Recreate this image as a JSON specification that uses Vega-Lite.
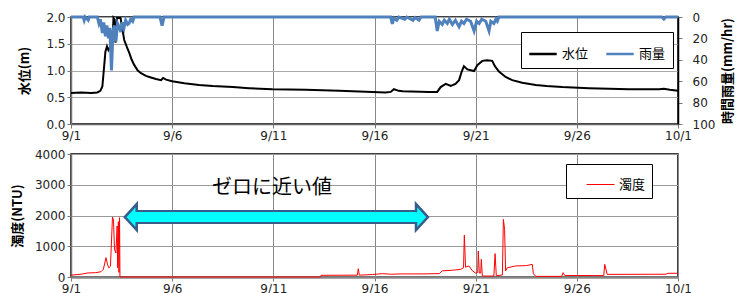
{
  "$schema": "https://vega.github.io/schema/vega-lite/v6.json",
  "background": "white",
  "padding": {"left": 10, "top": 10, "right": 4, "bottom": 0},
  "spacing": 5,
  "config": {
    "font": "Noto Sans CJK JP",
    "view": {"stroke": "black", "strokeWidth": 1.5},
    "axis": {"labelFont": "DejaVu Sans", "labelFontSize": 12, "labelColor": "#222", "titleFont": "Noto Sans CJK JP", "titleFontSize": 13, "titleFontWeight": "bold", "titleColor": "#000", "tickSize": 4, "domainWidth": 1.5, "labelOverlap": false, "labelFlush": false}
  },
  "resolve": {"scale": {"color": "independent"}, "legend": {"color": "independent"}},
  "datasets": {
    "level": [
      {"t": "2023-09-01T00:00", "v": 0.58}, {"t": "2023-09-01T12:00", "v": 0.59}, {"t": "2023-09-02T00:00", "v": 0.58},
      {"t": "2023-09-02T07:12", "v": 0.59}, {"t": "2023-09-02T10:48", "v": 0.62}, {"t": "2023-09-02T13:12", "v": 0.70},
      {"t": "2023-09-02T14:53", "v": 1.00}, {"t": "2023-09-02T16:48", "v": 1.35}, {"t": "2023-09-02T18:43", "v": 1.45},
      {"t": "2023-09-02T20:24", "v": 1.38}, {"t": "2023-09-02T22:48", "v": 1.45}, {"t": "2023-09-03T01:12", "v": 1.55},
      {"t": "2023-09-03T02:24", "v": 1.98}, {"t": "2023-09-03T03:36", "v": 1.95}, {"t": "2023-09-03T04:48", "v": 1.52},
      {"t": "2023-09-03T06:29", "v": 1.98}, {"t": "2023-09-03T10:48", "v": 1.98}, {"t": "2023-09-03T13:12", "v": 1.75},
      {"t": "2023-09-03T15:07", "v": 1.57}, {"t": "2023-09-03T18:00", "v": 1.45}, {"t": "2023-09-03T21:07", "v": 1.33},
      {"t": "2023-09-04T00:00", "v": 1.20}, {"t": "2023-09-04T03:07", "v": 1.10}, {"t": "2023-09-04T07:12", "v": 1.00},
      {"t": "2023-09-04T11:02", "v": 0.95}, {"t": "2023-09-04T16:48", "v": 0.90}, {"t": "2023-09-04T22:48", "v": 0.87},
      {"t": "2023-09-05T04:48", "v": 0.84}, {"t": "2023-09-05T10:48", "v": 0.82}, {"t": "2023-09-05T13:12", "v": 0.86},
      {"t": "2023-09-05T16:48", "v": 0.83}, {"t": "2023-09-06T00:00", "v": 0.80}, {"t": "2023-09-06T14:24", "v": 0.76},
      {"t": "2023-09-07T07:55", "v": 0.73}, {"t": "2023-09-08T00:00", "v": 0.71}, {"t": "2023-09-09T00:00", "v": 0.69},
      {"t": "2023-09-09T19:12", "v": 0.67}, {"t": "2023-09-10T22:48", "v": 0.65}, {"t": "2023-09-12T14:24", "v": 0.64},
      {"t": "2023-09-14T06:00", "v": 0.62}, {"t": "2023-09-15T21:36", "v": 0.60}, {"t": "2023-09-16T13:12", "v": 0.59},
      {"t": "2023-09-16T19:12", "v": 0.60}, {"t": "2023-09-16T23:02", "v": 0.65}, {"t": "2023-09-17T04:48", "v": 0.62},
      {"t": "2023-09-17T09:36", "v": 0.61}, {"t": "2023-09-18T16:48", "v": 0.60}, {"t": "2023-09-19T02:24", "v": 0.60},
      {"t": "2023-09-19T06:29", "v": 0.69}, {"t": "2023-09-19T12:29", "v": 0.75}, {"t": "2023-09-19T18:29", "v": 0.71},
      {"t": "2023-09-20T00:00", "v": 0.75}, {"t": "2023-09-20T04:19", "v": 0.82}, {"t": "2023-09-20T07:26", "v": 0.98},
      {"t": "2023-09-20T10:05", "v": 1.08}, {"t": "2023-09-20T14:10", "v": 1.02}, {"t": "2023-09-20T22:05", "v": 0.99},
      {"t": "2023-09-21T01:55", "v": 1.10}, {"t": "2023-09-21T07:55", "v": 1.18}, {"t": "2023-09-21T13:26", "v": 1.19},
      {"t": "2023-09-21T19:41", "v": 1.18}, {"t": "2023-09-21T22:48", "v": 1.08}, {"t": "2023-09-22T03:36", "v": 0.98},
      {"t": "2023-09-22T11:31", "v": 0.88}, {"t": "2023-09-22T19:26", "v": 0.82}, {"t": "2023-09-23T07:12", "v": 0.77},
      {"t": "2023-09-23T23:17", "v": 0.73}, {"t": "2023-09-24T12:00", "v": 0.71}, {"t": "2023-09-25T06:43", "v": 0.69},
      {"t": "2023-09-26T14:24", "v": 0.67}, {"t": "2023-09-28T13:55", "v": 0.65}, {"t": "2023-09-30T01:26", "v": 0.65},
      {"t": "2023-09-30T07:12", "v": 0.66}, {"t": "2023-09-30T14:24", "v": 0.64}, {"t": "2023-10-01T00:00", "v": 0.62}
    ],
    "rain": [
      {"t": "2023-09-01T00:00", "v": 0}, {"t": "2023-09-01T14:24", "v": 0}, {"t": "2023-09-01T15:36", "v": 3},
      {"t": "2023-09-01T16:48", "v": 0}, {"t": "2023-09-01T20:24", "v": 3}, {"t": "2023-09-01T21:36", "v": 0},
      {"t": "2023-09-02T07:12", "v": 0}, {"t": "2023-09-02T09:07", "v": 6}, {"t": "2023-09-02T10:48", "v": 2},
      {"t": "2023-09-02T13:12", "v": 15}, {"t": "2023-09-02T14:53", "v": 5}, {"t": "2023-09-02T16:48", "v": 18},
      {"t": "2023-09-02T18:29", "v": 8}, {"t": "2023-09-02T20:24", "v": 20}, {"t": "2023-09-02T22:05", "v": 10},
      {"t": "2023-09-03T00:00", "v": 50}, {"t": "2023-09-03T01:55", "v": 12}, {"t": "2023-09-03T03:36", "v": 8},
      {"t": "2023-09-03T05:17", "v": 23}, {"t": "2023-09-03T07:12", "v": 6}, {"t": "2023-09-03T09:36", "v": 10},
      {"t": "2023-09-03T11:02", "v": 14}, {"t": "2023-09-03T12:58", "v": 5}, {"t": "2023-09-03T14:53", "v": 10},
      {"t": "2023-09-03T16:48", "v": 3}, {"t": "2023-09-03T19:12", "v": 7}, {"t": "2023-09-03T20:53", "v": 6},
      {"t": "2023-09-03T22:48", "v": 2}, {"t": "2023-09-04T01:12", "v": 4}, {"t": "2023-09-04T02:53", "v": 0},
      {"t": "2023-09-05T09:36", "v": 0}, {"t": "2023-09-05T12:00", "v": 8}, {"t": "2023-09-05T14:24", "v": 0},
      {"t": "2023-09-16T19:12", "v": 0}, {"t": "2023-09-16T21:07", "v": 6.5}, {"t": "2023-09-16T23:02", "v": 1},
      {"t": "2023-09-17T02:24", "v": 3}, {"t": "2023-09-17T04:48", "v": 0}, {"t": "2023-09-17T12:00", "v": 2},
      {"t": "2023-09-17T14:24", "v": 0}, {"t": "2023-09-17T21:36", "v": 3}, {"t": "2023-09-18T00:00", "v": 0.5},
      {"t": "2023-09-18T04:48", "v": 3}, {"t": "2023-09-18T07:12", "v": 0}, {"t": "2023-09-19T00:00", "v": 0},
      {"t": "2023-09-19T02:24", "v": 13}, {"t": "2023-09-19T04:48", "v": 4}, {"t": "2023-09-19T08:24", "v": 7},
      {"t": "2023-09-19T10:48", "v": 3}, {"t": "2023-09-19T14:24", "v": 6}, {"t": "2023-09-19T16:48", "v": 2},
      {"t": "2023-09-19T20:24", "v": 7}, {"t": "2023-09-20T00:00", "v": 3}, {"t": "2023-09-20T04:19", "v": 9},
      {"t": "2023-09-20T07:12", "v": 4}, {"t": "2023-09-20T10:05", "v": 6}, {"t": "2023-09-20T13:12", "v": 2},
      {"t": "2023-09-20T18:00", "v": 4}, {"t": "2023-09-20T22:05", "v": 13}, {"t": "2023-09-21T01:12", "v": 4},
      {"t": "2023-09-21T04:05", "v": 6}, {"t": "2023-09-21T07:12", "v": 2}, {"t": "2023-09-21T12:00", "v": 4},
      {"t": "2023-09-21T15:50", "v": 13}, {"t": "2023-09-21T18:00", "v": 4}, {"t": "2023-09-21T21:36", "v": 6},
      {"t": "2023-09-22T00:00", "v": 2}, {"t": "2023-09-22T01:41", "v": 4}, {"t": "2023-09-22T03:36", "v": 0},
      {"t": "2023-09-30T04:48", "v": 0}, {"t": "2023-09-30T07:12", "v": 2}, {"t": "2023-09-30T09:36", "v": 0},
      {"t": "2023-10-01T00:00", "v": 0}
    ],
    "turb": [
      {"t": "2023-09-01T00:00", "v": 60}, {"t": "2023-09-01T12:00", "v": 90}, {"t": "2023-09-01T19:12", "v": 130},
      {"t": "2023-09-02T04:48", "v": 140}, {"t": "2023-09-02T11:31", "v": 170}, {"t": "2023-09-02T14:24", "v": 250},
      {"t": "2023-09-02T17:31", "v": 630}, {"t": "2023-09-02T19:12", "v": 420}, {"t": "2023-09-02T20:53", "v": 300},
      {"t": "2023-09-02T22:48", "v": 350}, {"t": "2023-09-03T01:12", "v": 1950}, {"t": "2023-09-03T02:24", "v": 1850},
      {"t": "2023-09-03T03:36", "v": 900}, {"t": "2023-09-03T05:17", "v": 780}, {"t": "2023-09-03T06:43", "v": 1660},
      {"t": "2023-09-03T07:26", "v": 300}, {"t": "2023-09-03T08:10", "v": 1800}, {"t": "2023-09-03T08:53", "v": 150},
      {"t": "2023-09-03T09:36", "v": 1930}, {"t": "2023-09-03T10:05", "v": 0}, {"t": "2023-09-13T08:10", "v": 0},
      {"t": "2023-09-13T08:38", "v": 55}, {"t": "2023-09-15T03:36", "v": 60}, {"t": "2023-09-15T04:48", "v": 270},
      {"t": "2023-09-15T06:00", "v": 60}, {"t": "2023-09-15T21:36", "v": 80}, {"t": "2023-09-16T09:36", "v": 110},
      {"t": "2023-09-16T19:12", "v": 90}, {"t": "2023-09-17T07:12", "v": 100}, {"t": "2023-09-18T08:24", "v": 100},
      {"t": "2023-09-19T04:48", "v": 110}, {"t": "2023-09-19T08:24", "v": 200}, {"t": "2023-09-19T20:24", "v": 220},
      {"t": "2023-09-20T06:14", "v": 250}, {"t": "2023-09-20T09:36", "v": 300}, {"t": "2023-09-20T10:34", "v": 1360},
      {"t": "2023-09-20T12:00", "v": 320}, {"t": "2023-09-20T16:05", "v": 360}, {"t": "2023-09-20T20:10", "v": 200},
      {"t": "2023-09-21T00:00", "v": 130}, {"t": "2023-09-21T02:24", "v": 150}, {"t": "2023-09-21T03:07", "v": 845},
      {"t": "2023-09-21T04:19", "v": 130}, {"t": "2023-09-21T06:00", "v": 130}, {"t": "2023-09-21T06:43", "v": 575},
      {"t": "2023-09-21T07:55", "v": 30}, {"t": "2023-09-21T21:36", "v": 30}, {"t": "2023-09-21T23:02", "v": 760},
      {"t": "2023-09-22T00:29", "v": 40}, {"t": "2023-09-22T07:41", "v": 65}, {"t": "2023-09-22T08:53", "v": 1875},
      {"t": "2023-09-22T10:19", "v": 1550}, {"t": "2023-09-22T11:31", "v": 200}, {"t": "2023-09-22T13:26", "v": 300},
      {"t": "2023-09-22T23:31", "v": 360}, {"t": "2023-09-23T12:00", "v": 370}, {"t": "2023-09-23T19:12", "v": 410},
      {"t": "2023-09-23T20:24", "v": 110}, {"t": "2023-09-23T23:17", "v": 20}, {"t": "2023-09-25T06:00", "v": 20},
      {"t": "2023-09-25T07:41", "v": 140}, {"t": "2023-09-25T09:36", "v": 50}, {"t": "2023-09-27T07:55", "v": 45},
      {"t": "2023-09-27T09:07", "v": 410}, {"t": "2023-09-27T12:00", "v": 85}, {"t": "2023-09-30T09:36", "v": 90},
      {"t": "2023-09-30T12:00", "v": 120}, {"t": "2023-10-01T00:00", "v": 120}
    ],
    "shaft": [
      {"part": "outline", "t": "2023-09-04T06:00", "t2": "2023-09-18T01:12", "v": 1950},
      {"part": "fill", "t": "2023-09-04T01:26", "t2": "2023-09-18T06:00", "v": 1950}
    ],
    "heads": [
      {"end": "left", "t": "2023-09-04T07:12", "v": 1950},
      {"end": "right", "t": "2023-09-18T00:00", "v": 1950}
    ],
    "note": [
      {"t": "2023-09-10T22:19", "v": 2900, "label": "ゼロに近い値"}
    ]
  },
  "vconcat": [
    {
      "width": 607,
      "height": 107,
      "layer": [
        {
          "data": {"name": "level"},
          "mark": {"type": "line", "strokeWidth": 2},
          "encoding": {
            "x": {"field": "t", "type": "temporal",
              "scale": {"domain": [{"year": 2023, "month": 9, "date": 1}, {"year": 2023, "month": 10, "date": 1}]},
              "axis": {"title": null, "format": "%-m/%-d", "grid": true, "gridColor": "#888", "domainColor": "#666", "tickColor": "#777", "labelPadding": 2, "labelFlush": false, "labelOverlap": false,
                "values": [{"year": 2023, "month": 9, "date": 1}, {"year": 2023, "month": 9, "date": 6}, {"year": 2023, "month": 9, "date": 11}, {"year": 2023, "month": 9, "date": 16}, {"year": 2023, "month": 9, "date": 21}, {"year": 2023, "month": 9, "date": 26}, {"year": 2023, "month": 10, "date": 1}]}},
            "y": {"field": "v", "type": "quantitative", "scale": {"domain": [0, 2]},
              "axis": {"title": "水位(m)", "values": [0, 0.5, 1, 1.5, 2], "format": ".1f", "grid": true, "gridColor": "#aaa", "domainColor": "#777", "tickColor": "#777", "titlePadding": 14, "labelPadding": 2, "labelOverlap": false, "labelFlush": false}},
            "color": {"datum": "水位", "type": "nominal",
              "scale": {"domain": ["水位", "雨量"], "range": ["#000000", "#4f81bd"]},
              "legend": {"orient": "none", "legendX": 450, "legendY": 15, "direction": "horizontal", "title": null, "strokeColor": "#000", "fillColor": "white", "padding": 7, "symbolType": "stroke", "symbolStrokeWidth": 2.5, "symbolSize": 750, "labelFont": "Noto Sans CJK JP", "labelFontSize": 13, "labelColor": "#000", "columnPadding": 12, "labelOffset": 4}}
          }
        },
        {
          "data": {"name": "rain"},
          "mark": {"type": "line", "strokeWidth": 3},
          "encoding": {
            "x": {"field": "t", "type": "temporal"},
            "y": {"field": "v", "type": "quantitative", "scale": {"domain": [0, 100], "reverse": true},
              "axis": {"orient": "right", "title": "時間雨量(mm/hr)", "titleAngle": 270, "titleBaseline": "top", "values": [0, 20, 40, 60, 80, 100], "grid": false, "domainColor": "#000", "tickColor": "#777", "labelPadding": 10, "titlePadding": 7, "labelOverlap": false, "labelFlush": false}},
            "color": {"datum": "雨量", "type": "nominal"}
          }
        }
      ],
      "resolve": {"scale": {"y": "independent"}}
    },
    {
      "width": 607,
      "height": 123,
      "layer": [
        {
          "data": {"name": "turb"},
          "mark": {"type": "line", "strokeWidth": 1},
          "encoding": {
            "x": {"field": "t", "type": "temporal",
              "scale": {"domain": [{"year": 2023, "month": 9, "date": 1}, {"year": 2023, "month": 10, "date": 1}]},
              "axis": {"title": null, "format": "%-m/%-d", "grid": true, "gridColor": "#888", "domainColor": "#888", "domainWidth": 2.5, "tickColor": "#777", "labelPadding": 2, "labelFlush": false, "labelOverlap": false,
                "values": [{"year": 2023, "month": 9, "date": 1}, {"year": 2023, "month": 9, "date": 6}, {"year": 2023, "month": 9, "date": 11}, {"year": 2023, "month": 9, "date": 16}, {"year": 2023, "month": 9, "date": 21}, {"year": 2023, "month": 9, "date": 26}, {"year": 2023, "month": 10, "date": 1}]}},
            "y": {"field": "v", "type": "quantitative", "scale": {"domain": [0, 4000]},
              "axis": {"title": "濁度(NTU)", "values": [0, 1000, 2000, 3000, 4000], "tickCount": 5, "format": "d", "grid": true, "gridColor": "#999", "domainColor": "#777", "tickColor": "#777", "titlePadding": 10, "labelPadding": 2, "labelOverlap": false, "labelFlush": false}},
            "color": {"datum": "濁度", "type": "nominal",
              "scale": {"domain": ["濁度"], "range": ["#ff0000"]},
              "legend": {"orient": "none", "legendX": 495, "legendY": 10, "title": null, "strokeColor": "#000", "fillColor": "white", "padding": 6, "symbolType": "stroke", "symbolStrokeWidth": 1, "symbolSize": 784, "symbolOffset": 14, "labelFont": "Noto Sans CJK JP", "labelFontSize": 13, "labelColor": "#000", "labelOffset": 4}}
          }
        },
        {
          "data": {"name": "shaft"},
          "transform": [{"filter": "datum.part === 'outline'"}],
          "mark": {"type": "rule", "strokeWidth": 14, "color": "#385d8a"},
          "encoding": {
            "x": {"field": "t", "type": "temporal"},
            "x2": {"field": "t2"},
            "y": {"field": "v", "type": "quantitative", "axis": {"values": [0, 1000, 2000, 3000, 4000], "tickCount": 5}}
          }
        },
        {
          "data": {"name": "heads"},
          "mark": {"type": "point", "filled": true, "fill": "#00ffff", "stroke": "#385d8a", "strokeWidth": 2.5, "opacity": 1, "size": 676},
          "encoding": {
            "x": {"field": "t", "type": "temporal"},
            "y": {"field": "v", "type": "quantitative", "axis": {"values": [0, 1000, 2000, 3000, 4000], "tickCount": 5}},
            "shape": {"field": "end", "type": "nominal", "scale": {"domain": ["left", "right"], "range": ["M-1,0L-0.08,-1L-0.08,1Z", "M1,0L0.08,-1L0.08,1Z"]}, "legend": null}
          }
        },
        {
          "data": {"name": "shaft"},
          "transform": [{"filter": "datum.part === 'fill'"}],
          "mark": {"type": "rule", "strokeWidth": 10, "color": "#00ffff"},
          "encoding": {
            "x": {"field": "t", "type": "temporal"},
            "x2": {"field": "t2"},
            "y": {"field": "v", "type": "quantitative", "axis": {"values": [0, 1000, 2000, 3000, 4000], "tickCount": 5}}
          }
        },
        {
          "data": {"name": "note"},
          "mark": {"type": "text", "font": "Noto Sans CJK JP", "fontSize": 20, "color": "#000", "align": "center", "baseline": "middle"},
          "encoding": {
            "x": {"field": "t", "type": "temporal"},
            "y": {"field": "v", "type": "quantitative", "axis": {"values": [0, 1000, 2000, 3000, 4000], "tickCount": 5}},
            "text": {"field": "label"}
          }
        }
      ]
    }
  ]
}
